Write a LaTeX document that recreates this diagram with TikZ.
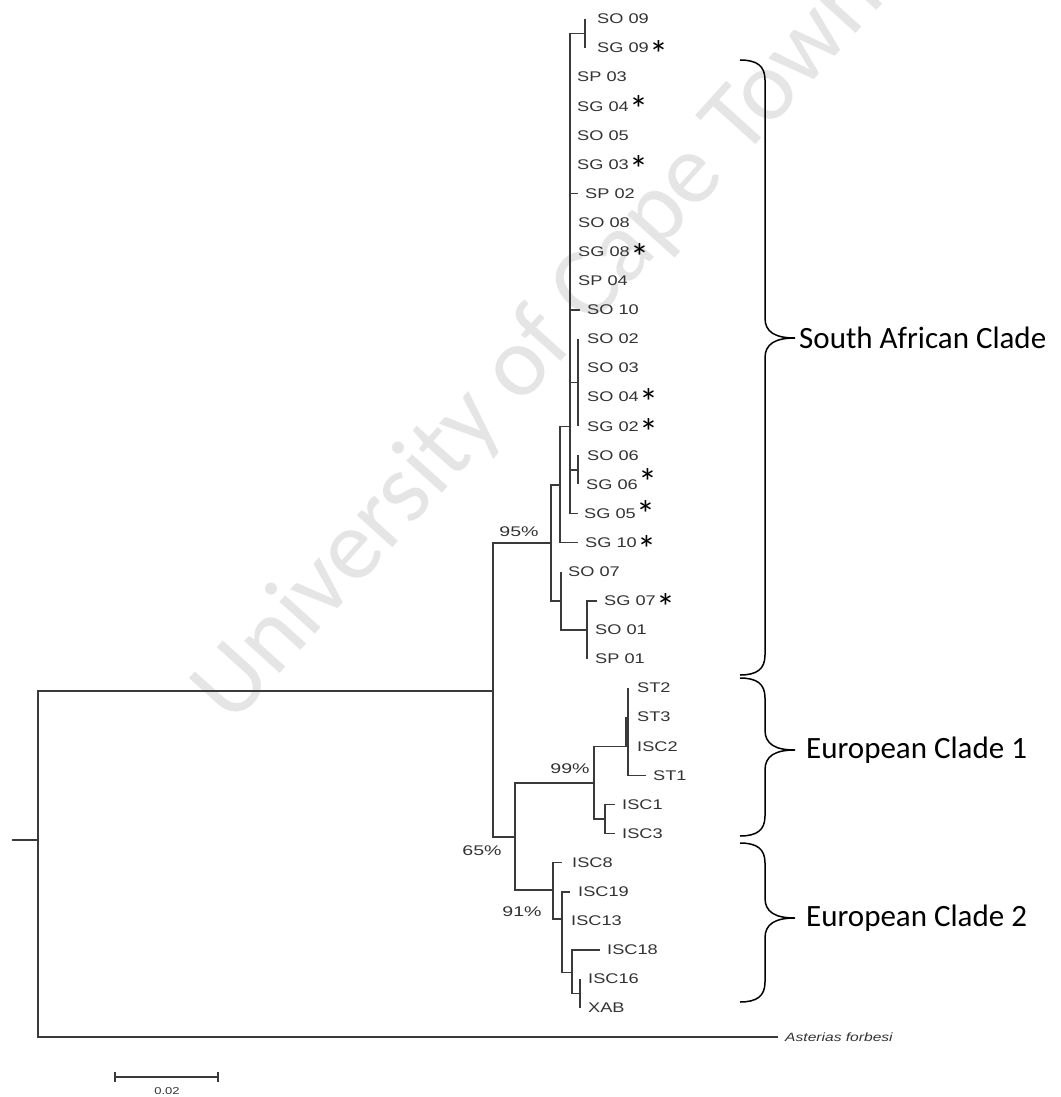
\documentclass[tikz,border=0pt]{standalone}
\usepackage{fontspec}
\setmainfont{Liberation Sans}
\newfontfamily\leaffam[FakeStretch=1.3]{Liberation Sans}
\newfontfamily\pctfam[FakeStretch=1.4]{Liberation Sans}
\newfontfamily\cladefam{Carlito}
\definecolor{treeline}{HTML}{3A3A3A}
\definecolor{labeltext}{HTML}{333333}
\definecolor{wmcolor}{HTML}{E5E5E5}
\newcommand\cladebrace[3]{%
  \draw[bracepath] (740,#1) .. controls (757,#1) and (765,{#1+6}) .. (765,{#1+20})
    -- (765,{#2-20}) .. controls (765,{#2-6}) and (775,#2) .. (795,#2)
    .. controls (775,#2) and (765,{#2+6}) .. (765,{#2+20})
    -- (765,{#3-20}) .. controls (765,{#3-6}) and (757,#3) .. (740,#3);}
\begin{document}
\begin{tikzpicture}[x=1pt,y=-1pt,
  branch/.style={draw=treeline,line width=1.6pt},
  leaf/.style={anchor=west,inner sep=0pt,text=labeltext,font=\leaffam\fontsize{14}{14}\selectfont},
  starnode/.style={anchor=west,inner sep=0pt,text=black,font=\cladefam\fontsize{38}{38}\selectfont},
  pct/.style={inner sep=0pt,text=labeltext,font=\pctfam\fontsize{14}{14}\selectfont},
  clade/.style={anchor=west,inner sep=0pt,text=black,font=\cladefam\fontsize{31}{31}\selectfont},
  bracepath/.style={draw=black,line width=1.5pt},
  wm/.style={text=wmcolor,rotate=48,inner sep=0pt,font=\cladefam\fontsize{100}{100}\selectfont}]
\useasboundingbox (0,0) rectangle (1060,1097);
\fill[white] (0,0) rectangle (1060,1097);
% watermark
\node[wm] (wmark) at (540,345) {University of Cape Town};
% internal nodes
\coordinate (stub) at (12,840);
\coordinate (root) at (38,840);
\coordinate (n9) at (493,691);
\coordinate (n8) at (551,543);
\coordinate (n5) at (560,485);
\coordinate (pp) at (570,426.3);
\coordinate (n1) at (585,33.5);
\coordinate (n2) at (578,382.6);
\coordinate (n3) at (578,470);
\coordinate (n6) at (561,601);
\coordinate (n7) at (587,629.9);
\coordinate (n10) at (515,837);
\coordinate (n11) at (594,783);
\coordinate (n12) at (628,746.3);
\coordinate (n13) at (605,819);
\coordinate (n14) at (553,890);
\coordinate (n15) at (562,919);
\coordinate (n16) at (572,972.5);
\coordinate (n17) at (580,993.5);
% tips
\coordinate (tSO09) at (585,19);
\coordinate (tSG09) at (585,48.1);
\coordinate (tSP02) at (578,193.5);
\coordinate (tSO10) at (580,309.9);
\coordinate (tSO02) at (578,339);
\coordinate (tSG02) at (578,426.3);
\coordinate (tSO06) at (578,455.4);
\coordinate (tSG06) at (578,484.4);
\coordinate (tSG05) at (578,513.5);
\coordinate (tSG10) at (578,542.6);
\coordinate (tSO07) at (561,571.7);
\coordinate (tSG07) at (597,600.8);
\coordinate (tSP01) at (587,659);
\coordinate (tST2) at (628,688.1);
\coordinate (tST3) at (626.5,717.2);
\coordinate (tISC2) at (626.5,746.3);
\coordinate (tST1) at (646,775.4);
\coordinate (tISC1) at (615,804.5);
\coordinate (tISC3) at (615,833.6);
\coordinate (tISC8) at (562,862.6);
\coordinate (tISC19) at (570,891.7);
\coordinate (tISC18) at (600,949.9);
\coordinate (tISC16) at (580,979);
\coordinate (tXAB) at (580,1008.1);
\coordinate (tAst) at (778,1037.2);
% branches
\draw[branch] (stub) -- (root);
\draw[branch] (root) |- (n9);
\draw[branch] (root) |- (tAst);
\draw[branch] (n9) |- (n8);
\draw[branch] (n9) |- (n10);
\draw[branch] (n8) |- (n5);
\draw[branch] (n8) |- (n6);
\draw[branch] (n5) |- (pp);
\draw[branch] (n5) |- (tSG10);
\draw[branch] (pp) |- (n1);
\draw[branch] (pp) |- (tSP02);
\draw[branch] (pp) |- (tSO10);
\draw[branch] (pp) |- (n2);
\draw[branch] (pp) |- (n3);
\draw[branch] (pp) |- (tSG05);
\draw[branch] (n1) -- (tSO09);
\draw[branch] (n1) -- (tSG09);
\draw[branch] (n2) -- (tSO02);
\draw[branch] (n2) -- (tSG02);
\draw[branch] (n3) -- (tSO06);
\draw[branch] (n3) -- (tSG06);
\draw[branch] (n6) -- (tSO07);
\draw[branch] (n6) |- (n7);
\draw[branch] (n7) |- (tSG07);
\draw[branch] (n7) -- (tSP01);
\draw[branch] (n10) |- (n11);
\draw[branch] (n10) |- (n14);
\draw[branch] (n11) |- (n12);
\draw[branch] (n11) |- (n13);
\draw[branch] (n12) -- (tST2);
\draw[branch] (n12) |- (tST1);
\draw[branch,line width=2.4pt] (tST3) -- (tISC2);
\draw[branch] (n13) |- (tISC1);
\draw[branch] (n13) |- (tISC3);
\draw[branch] (n14) |- (tISC8);
\draw[branch] (n14) |- (n15);
\draw[branch] (n15) |- (tISC19);
\draw[branch] (n15) |- (n16);
\draw[branch] (n16) |- (tISC18);
\draw[branch] (n16) |- (n17);
\draw[branch] (n17) -- (tISC16);
\draw[branch] (n17) -- (tXAB);
% leaf labels
\foreach \nm/\txt/\x/\i in {SO09/SO 09/597/0, SG09/SG 09/597/1, SP03/SP 03/577/2,
  SG04/SG 04/577/3, SO05/SO 05/577/4, SG03/SG 03/577/5, SP02/SP 02/585/6,
  SO08/SO 08/578/7, SG08/SG 08/578/8, SP04/SP 04/578/9, SO10/SO 10/587/10,
  SO02/SO 02/587/11, SO03/SO 03/587/12, SO04/SO 04/587/13, SG02/SG 02/587/14,
  SO06/SO 06/587/15, SG06/SG 06/586/16, SG05/SG 05/584/17, SG10/SG 10/585/18,
  SO07/SO 07/568/19, SG07/SG 07/604/20, SO01/SO 01/595/21, SP01/SP 01/595/22,
  ST2/ST2/637/23, ST3/ST3/637/24, ISC2/ISC2/637/25, ST1/ST1/653/26,
  ISC1/ISC1/622/27, ISC3/ISC3/622/28, ISC8/ISC8/572/29, ISC19/ISC19/578/30,
  ISC13/ISC13/571/31, ISC18/ISC18/607/32, ISC16/ISC16/588/33, XAB/XAB/588/34}
  \node[leaf] (l\nm) at (\x,{19+29.09*\i}) {\txt};
\node[leaf,font=\leaffam\itshape\fontsize{12}{12}\selectfont] (lAst) at (785,1037.2) {Asterias forbesi};
% stars
\foreach \nm/\dy in {SG09/-6, SG04/-3, SG03/-5, SG08/-5, SO04/-5, SG02/-6, SG06/2, SG05/0, SG10/-6, SG07/-6}
  \node[starnode] (s\nm) at ([xshift=0pt,yshift=\dy pt]l\nm.east) {*};
% support values
\node[pct] (p95) at (519,532) {95\%};
\node[pct] (p99) at (570,769) {99\%};
\node[pct] (p65) at (482,851) {65\%};
\node[pct] (p91) at (522,912) {91\%};
% braces and clade names
\cladebrace{60}{338}{675}
\cladebrace{678}{750}{836}
\cladebrace{843}{918}{1002}
\node[clade] (cSA) at (799,338) {South African Clade};
\node[clade] (cE1) at (806,750) {European Clade 1};
\node[clade] (cE2) at (806,918) {European Clade 2};
% scale bar
\coordinate (sb1) at (115,1077);
\coordinate (sb2) at (218,1077);
\draw[branch,line width=1.3pt] (sb1) -- (sb2);
\draw[branch,line width=1.3pt] ([yshift=5pt]sb1) -- ([yshift=-5pt]sb1);
\draw[branch,line width=1.3pt] ([yshift=5pt]sb2) -- ([yshift=-5pt]sb2);
\node[leaf,anchor=center,font=\leaffam\fontsize{10}{10}\selectfont] (sblab) at (167,1091) {0.02};
\end{tikzpicture}
\end{document}
